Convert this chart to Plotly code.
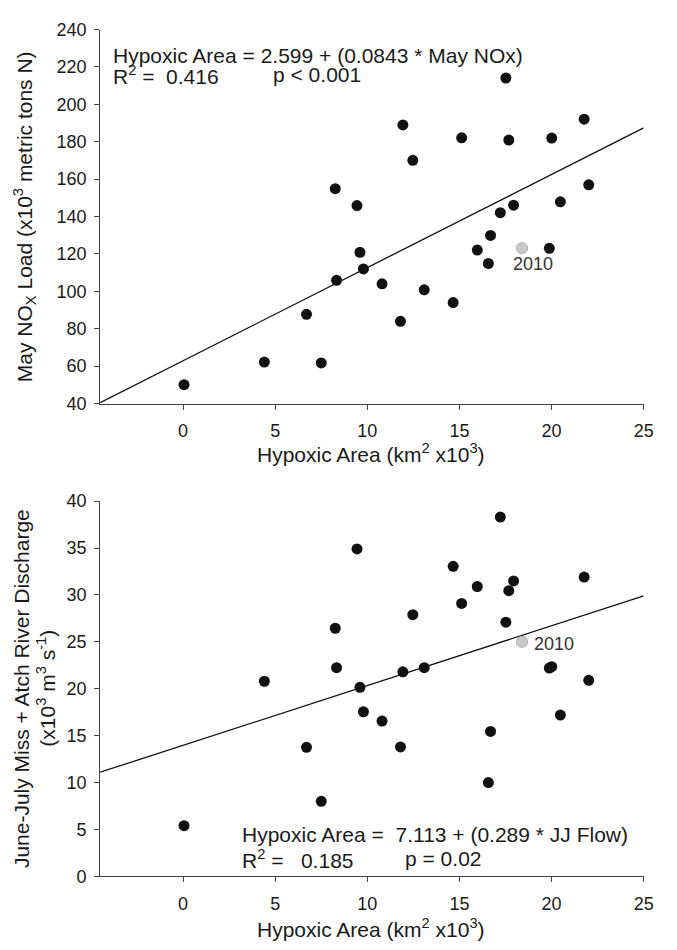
import plotly.graph_objects as go

# ---------------- data ----------------
hypoxic_area = [0.05, 4.41, 6.70, 7.50, 8.26, 8.33, 9.44, 9.60, 9.79, 10.80,
                11.80, 11.93, 12.47, 13.09, 14.66, 15.12, 15.97, 16.57, 16.69,
                17.22, 17.52, 17.68, 17.94, 19.88, 20.01, 20.48, 21.77, 22.02]
may_nox = [50.1, 62.2, 87.7, 61.7, 154.9, 105.9, 145.9, 120.9, 112.0, 104.0,
           84.0, 189.0, 170.1, 100.8, 94.0, 182.1, 122.1, 114.9, 129.9,
           142.1, 214.1, 180.9, 146.1, 123.0, 182.0, 147.9, 192.1, 157.0]
jj_flow = [5.4, 20.8, 13.76, 8.0, 26.45, 22.25, 34.9, 20.15, 17.55, 16.55,
           13.8, 21.8, 27.9, 22.25, 33.05, 29.1, 30.9, 10.0, 15.45,
           38.3, 27.1, 30.45, 31.5, 22.2, 22.35, 17.2, 31.9, 20.9]

# highlighted year 2010
area_2010 = [18.40]
nox_2010 = [123.1]
flow_2010 = [25.0]

# fitted lines (end points)
fit_x = [-4.5, 25]
fit_nox = [40.5, 187.4]
fit_flow = [11.1, 29.9]

x_ticks = [0, 5, 10, 15, 20, 25]
nox_ticks = [40, 60, 80, 100, 120, 140, 160, 180, 200, 220, 240]
flow_ticks = [0, 5, 10, 15, 20, 25, 30, 35, 40]

# ---------------- figure ----------------
W, H = 677, 950
FONT = "Liberation Sans, Arial, sans-serif"
AX = "#444444"
TXT = "#1a1a1a"


def px(x):
    return x / W


def py(y):
    return 1 - y / H


fig = go.Figure()

dot = dict(size=11, color="#111111", line=dict(width=0))
grey = dict(size=11, color="#c9c9c9", line=dict(width=1, color="#aaaaaa"))

# top panel
fig.add_trace(go.Scatter(x=fit_x, y=fit_nox, mode="lines",
                         line=dict(color="#111111", width=1.3),
                         xaxis="x", yaxis="y", hoverinfo="skip"))
fig.add_trace(go.Scatter(x=hypoxic_area, y=may_nox, mode="markers", marker=dot,
                         xaxis="x", yaxis="y"))
fig.add_trace(go.Scatter(x=area_2010, y=nox_2010, mode="markers", marker=grey,
                         xaxis="x", yaxis="y"))

# bottom panel
fig.add_trace(go.Scatter(x=fit_x, y=fit_flow, mode="lines",
                         line=dict(color="#111111", width=1.3),
                         xaxis="x2", yaxis="y2", hoverinfo="skip"))
fig.add_trace(go.Scatter(x=hypoxic_area, y=jj_flow, mode="markers", marker=dot,
                         xaxis="x2", yaxis="y2"))
fig.add_trace(go.Scatter(x=area_2010, y=flow_2010, mode="markers", marker=grey,
                         xaxis="x2", yaxis="y2"))

axis_common = dict(showline=True, linecolor=AX, linewidth=1, ticks="outside",
                   ticklen=5, tickcolor=AX, tickwidth=1, showgrid=False,
                   zeroline=False, mirror=False,
                   tickfont=dict(family=FONT, size=18, color=TXT))

x_dom = [px(101.7), px(653.3)]

fig.update_layout(
    width=W, height=H,
    margin=dict(l=0, r=0, t=0, b=0),
    paper_bgcolor="white", plot_bgcolor="white",
    showlegend=False,
    xaxis=dict(domain=x_dom, range=[-4.5, 25], tickvals=x_ticks, anchor="y",
               ticklabelstandoff=6, **axis_common),
    yaxis=dict(domain=[py(402), py(20)], range=[40, 240], tickvals=nox_ticks,
               anchor="x", ticklabelstandoff=4, **axis_common),
    xaxis2=dict(domain=x_dom, range=[-4.5, 25], tickvals=x_ticks, anchor="y2",
                ticklabelstandoff=6, **axis_common),
    yaxis2=dict(domain=[py(885), py(501.7)], range=[0, 40], tickvals=flow_ticks,
                anchor="x2", ticklabelstandoff=4, **axis_common),
)


def note(text, x, y, size=21, xanchor="left", angle=0, color=TXT):
    fig.add_annotation(text=text, x=px(x), y=py(y), xref="paper", yref="paper",
                       xanchor=xanchor, yanchor="middle", showarrow=False,
                       textangle=angle,
                       font=dict(family=FONT, size=size, color=color))


# equations
note("Hypoxic Area = 2.599 + (0.0843 * May NOx)", 113, 46)
note("R<sup>2</sup> =&nbsp; 0.416", 113, 66)
note("p &lt; 0.001", 275, 66)

note("Hypoxic Area =&nbsp; 7.113 + (0.289 * JJ Flow)", 244, 842)
note("R<sup>2</sup> =&nbsp;&nbsp; 0.185", 244, 867)
note("p = 0.02", 409, 867)

# 2010 labels
note("2010", 541, 259, size=18, xanchor="center", color="#333333")
note("2010", 540, 648, size=18, color="#333333")

# axis titles
note("Hypoxic Area (km<sup>2</sup> x10<sup>3</sup>)", 377, 453, xanchor="center")
note("Hypoxic Area (km<sup>2</sup> x10<sup>3</sup>)", 377, 938, xanchor="center")
note("May NO<sub>X</sub> Load (x10<sup>3</sup> metric tons N)", 25, 211,
     xanchor="center", angle=-90)
note("June-July Miss + Atch River Discharge", 22, 693, xanchor="center", angle=-90)
note("(x10<sup>3</sup> m<sup>3</sup> s<sup>-1</sup>)", 47, 693, xanchor="center",
     angle=-90)

fig.write_html("out.html")
